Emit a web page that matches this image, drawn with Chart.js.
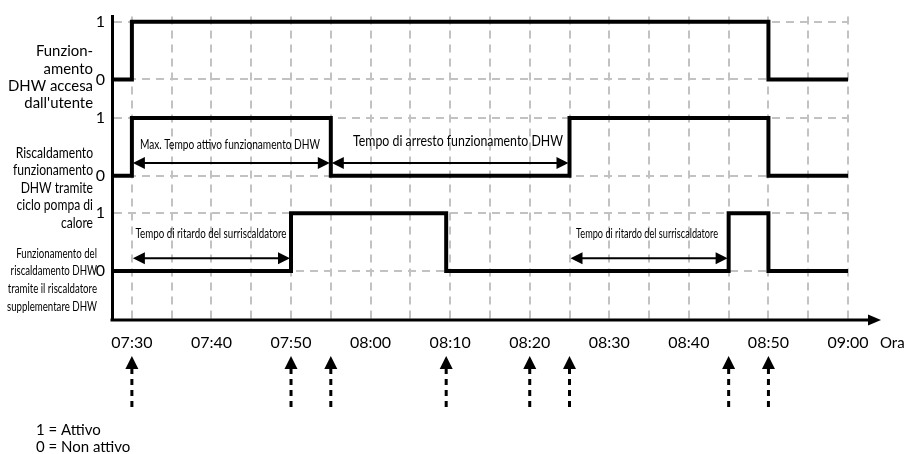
<!DOCTYPE html>
<html>
<head>
<meta charset="utf-8">
<script src="https://cdn.jsdelivr.net/npm/chart.js@4/dist/chart.umd.min.js"></script>
<style>
  html, body { margin: 0; padding: 0; background: #fff; }
  #wrap { width: 907px; height: 454px; }
</style>
</head>
<body>
<div id="wrap"><canvas id="c" width="907" height="454"></canvas></div>
<script>
// times are 'HH:MM' (minutes may carry a decimal), states are 0 / 1
const accesaTimes = ['07:27.5', '07:30', '08:50', '09:00'];
const accesaStates = [0, 1, 0, 0];

const pompaTimes = ['07:27.5', '07:30', '07:55', '08:25', '08:50', '09:00'];
const pompaStates = [0, 1, 0, 1, 0, 0];

const supplTimes = ['07:27.5', '07:50', '08:09.5', '08:45', '08:50', '09:00'];
const supplStates = [0, 1, 0, 1, 0, 0];

const gridTimes = ['07:30', '07:35', '07:40', '07:45', '07:50', '07:55', '08:00', '08:05', '08:10', '08:15',
    '08:20', '08:25', '08:30', '08:35', '08:40', '08:45', '08:50', '08:55', '09:00'];
const tickLabels = ['07:30', '07:40', '07:50', '08:00', '08:10', '08:20', '08:30', '08:40', '08:50', '09:00'];

const laneTitles = [
    ['Funzion-', 'amento', 'DHW accesa', "dall'utente"],
    ['Riscaldamento', 'funzionamento', 'DHW tramite', 'ciclo pompa di', 'calore'],
    ['Funzionamento del', 'riscaldamento DHW', 'tramite il riscaldatore', 'supplementare DHW']
];

const spanFrom = ['07:30', '07:55', '07:30', '08:25'];
const spanTo = ['07:55', '08:25', '07:50', '08:45'];
const spanLane = [1, 1, 2, 2];
const spanText = ['Max. Tempo attivo funzionamento DHW', 'Tempo di arresto funzionamento DHW',
    'Tempo di ritardo del surriscaldatore', 'Tempo di ritardo del surriscaldatore'];

const eventTimes = ['07:30', '07:50', '07:55', '08:09.5', '08:20', '08:25', '08:45', '08:50'];

const legendLines = ['1 = Attivo', '0 = Non attivo'];

// layout: value of the "0" level of each lane on the y scale
const LANE_BASE = [4.17, 2.5, 0.85];
const Y_MAX = 5.26;

const toMin = s => {
    const [h, m] = s.split(':');
    return Number(h) * 60 + parseFloat(m);
};

const fontReg = 'Lato, "Noto Sans", sans-serif';

const lanes = [[accesaTimes, accesaStates], [pompaTimes, pompaStates], [supplTimes, supplStates]];
const datasets = lanes.map(([times, states], k) => ({
    data: times.map((t, i) => ({x: toMin(t), y: LANE_BASE[k] + states[i]})),
    stepped: true,
    borderColor: '#000',
    borderWidth: 4,
    borderCapStyle: 'butt',
    borderJoinStyle: 'miter',
    pointRadius: 0,
    fill: false
}));

const levels = LANE_BASE.flatMap(b => [b + 1, b]);
const levelLabels = LANE_BASE.flatMap(() => ['1', '0']);

const filledArrow = (ctx, x, y, dir, len, half) => {
    // dir: 1 = pointing right, -1 = left
    ctx.beginPath();
    ctx.moveTo(x, y);
    ctx.lineTo(x - dir * len, y - half);
    ctx.lineTo(x - dir * len, y + half);
    ctx.closePath();
    ctx.fill();
};

// squeeze text horizontally (no condensed face installed)
const squeezed = (ctx, text, x, y, sx) => {
    ctx.save();
    ctx.translate(x, y);
    ctx.scale(sx, 1);
    ctx.fillText(text, 0, 0);
    ctx.restore();
};

const overlay = {
    id: 'overlay',
    afterDraw(chart) {
        const {ctx, chartArea: a, scales: {x, y}} = chart;
        ctx.save();
        ctx.fillStyle = '#000';
        ctx.strokeStyle = '#000';

        // x axis with arrow head
        ctx.lineWidth = 3;
        ctx.beginPath();
        ctx.moveTo(a.left - 1.5, a.bottom);
        ctx.lineTo(870, a.bottom);
        ctx.stroke();
        filledArrow(ctx, 881, a.bottom, 1, 13, 5.5);

        ctx.font = '15px ' + fontReg;
        ctx.textBaseline = 'middle';
        ctx.textAlign = 'left';
        ctx.fillText('Ora', 880, 343);

        // lane titles
        const titleShift = [-2, 12, 9];
        const titleRight = [93, 93, 97];
        const titleSize = [15, 15, 13];
        const titleWidth = [85, 80, 90];
        const lineH = [17.4, 17.5, 17.7];
        laneTitles.forEach((lines, k) => {
            const cy = y.getPixelForValue(LANE_BASE[k]) + titleShift[k];
            ctx.font = titleSize[k] + 'px ' + fontReg;
            ctx.textAlign = 'right';
            const widest = Math.max(...lines.map(t => ctx.measureText(t).width));
            const sx = Math.min(1, titleWidth[k] / widest);
            const top = cy - (lines.length - 1) * lineH[k] / 2;
            lines.forEach((t, i) => squeezed(ctx, t, titleRight[k], top + i * lineH[k], sx));
        });

        // duration arrows with captions
        const arrowLevel = 0.22;
        const textY = [144, 141, 234, 234];
        const textSize = [14, 14.5, 12.5, 12.5];
        const textWidth = [180, 210, 151, 142];
        const textCx = [230, 458, 211, 647];
        spanText.forEach((t, i) => {
            const lane = spanLane[i];
            const x1 = x.getPixelForValue(toMin(spanFrom[i]));
            const x2 = x.getPixelForValue(toMin(spanTo[i]));
            const yy = y.getPixelForValue(LANE_BASE[lane] + arrowLevel);
            ctx.lineWidth = 2;
            ctx.beginPath();
            ctx.moveTo(x1 + 8, yy);
            ctx.lineTo(x2 - 8, yy);
            ctx.stroke();
            filledArrow(ctx, x1 + 1, yy, -1, 12, 6);
            filledArrow(ctx, x2 - 1, yy, 1, 12, 6);
            ctx.font = textSize[i] + 'px ' + fontReg;
            ctx.textAlign = 'center';
            const sx = Math.min(1, textWidth[i] / ctx.measureText(t).width);
            squeezed(ctx, t, textCx[i], textY[i], sx);
        });

        // dashed event arrows under the time axis
        eventTimes.forEach(t => {
            const px = x.getPixelForValue(toMin(t));
            ctx.beginPath();
            ctx.moveTo(px, 356);
            ctx.lineTo(px - 6.5, 369);
            ctx.lineTo(px + 6.5, 369);
            ctx.closePath();
            ctx.fill();
            ctx.lineWidth = 3;
            ctx.setLineDash([6, 5]);
            ctx.beginPath();
            ctx.moveTo(px, 368);
            ctx.lineTo(px, 408);
            ctx.stroke();
            ctx.setLineDash([]);
        });

        // legend text
        ctx.font = '15px ' + fontReg;
        ctx.textAlign = 'left';
        legendLines.forEach((t, i) => ctx.fillText(t, 36, 430 + i * 17));

        ctx.restore();
    }
};

new Chart(document.getElementById('c'), {
    type: 'line',
    data: {datasets},
    plugins: [overlay],
    options: {
        responsive: false,
        animation: false,
        devicePixelRatio: 1,
        layout: {padding: {top: 15, right: 59, left: 0, bottom: 0}},
        plugins: {legend: {display: false}, tooltip: {enabled: false}},
        scales: {
            x: {
                type: 'linear',
                min: toMin('07:27.5'),
                max: toMin('09:00'),
                afterBuildTicks: s => { s.ticks = gridTimes.map(t => ({value: toMin(t)})); },
                afterFit: s => { s.height = 134; },
                grid: {color: '#c2c2c2', lineWidth: 2, drawTicks: false},
                border: {display: false, dash: [8, 6]},
                ticks: {
                    autoSkip: false,
                    maxRotation: 0,
                    padding: 13,
                    color: '#000',
                    font: {family: fontReg, size: 16},
                    callback: v => tickLabels.find(t => toMin(t) === v) || ''
                }
            },
            y: {
                type: 'linear',
                min: 0,
                max: Y_MAX,
                afterBuildTicks: s => { s.ticks = levels.map(v => ({value: v})); },
                afterFit: s => { s.width = 112; },
                grid: {color: '#c2c2c2', lineWidth: 2, drawTicks: false},
                border: {display: true, color: '#000', width: 3, dash: [8, 6]},
                ticks: {
                    autoSkip: false,
                    padding: 7,
                    color: '#000',
                    font: {family: fontReg, size: 16},
                    callback: (v, i) => levelLabels[i]
                }
            }
        }
    }
});
</script>
</body>
</html>
